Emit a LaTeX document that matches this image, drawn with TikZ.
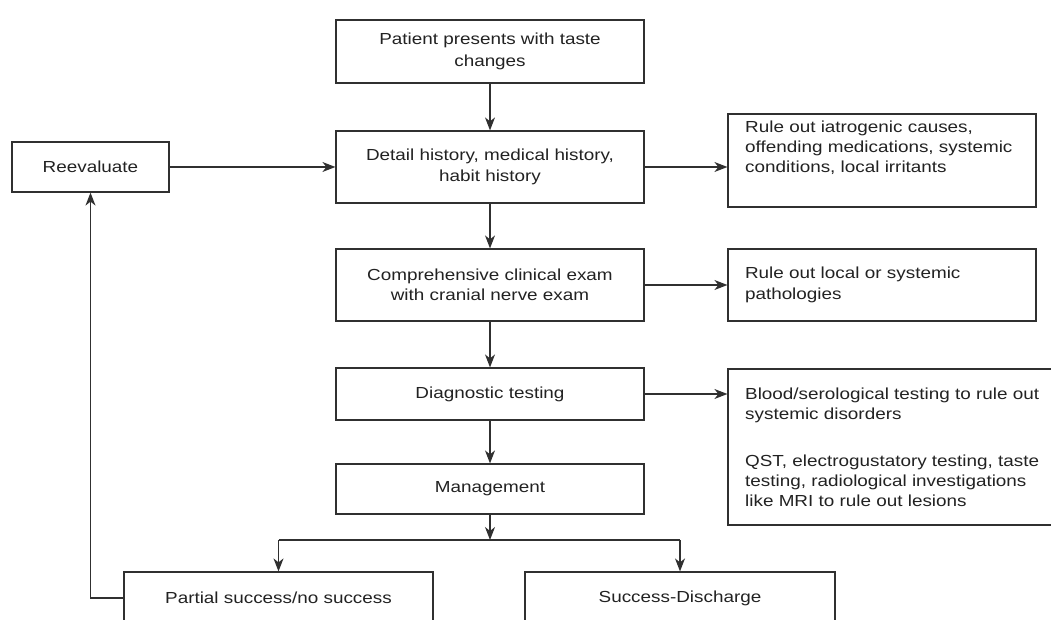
\documentclass[tikz,border=0pt]{standalone}
\usepackage{fontspec}
\setmainfont{Liberation Sans}[FakeStretch=1.18]
\usetikzlibrary{arrows.meta}
\definecolor{ln}{HTML}{303030}
\definecolor{tx}{HTML}{222222}
\tikzset{
  box/.style={draw=ln, line width=1.2pt, rectangle, inner sep=0pt, align=center,
    text=tx, font=\fontsize{16}{20.5}\selectfont},
  cbox/.style={box, minimum width=308pt},
  rtext/.style={inner sep=0pt, align=left, text=tx, font=\fontsize{16}{20}\selectfont, anchor=north west},
  arr/.style={draw=ln, line width=1.2pt, -{Stealth[length=13pt,width=10pt,inset=4pt]}},
  ln/.style={draw=ln, line width=1.2pt}
}
\begin{document}
\begin{tikzpicture}[x=1pt,y=-1pt]
\useasboundingbox (0,0) rectangle (1051,620);
\clip (0,0) rectangle (1051,620);
\fill[white] (0,0) rectangle (1051,620);
% central column
\node[cbox, minimum height=63pt, font=\fontsize{16}{22}\selectfont] (top) at (490,51.5) {Patient presents with taste\\changes};
\node[cbox, minimum height=72pt] (hist) at (490,167) {Detail history, medical history,\\habit history};
\node[cbox, minimum height=72pt] (exam) at (490,285) {Comprehensive clinical exam\\with cranial nerve exam};
\node[cbox, minimum height=52pt] (diag) at (490,394) {Diagnostic testing};
\node[cbox, minimum height=50pt] (mgmt) at (490,489) {Management};
% left
\node[box, minimum width=157pt, minimum height=50pt] (reev) at (90.5,167) {Reevaluate};
% right column
\node[box, minimum width=308pt, minimum height=93pt] (r1) at (882,160.5) {};
\node[rtext] (r1t) at (745,121) {Rule out iatrogenic causes,\\offending medications, systemic\\conditions, local irritants};
\node[box, minimum width=308pt, minimum height=72pt, align=left, text width=274pt] (r2) at (882,285) {Rule out local or systemic\\pathologies};
\node[box, minimum width=332pt, minimum height=156pt] (r3) at (894,447) {};
\node[rtext] (r3t) at (745,388) {Blood/serological testing to rule out\\systemic disorders\\[27pt]QST, electrogustatory testing, taste\\testing, radiological investigations\\like MRI to rule out lesions};
% bottom
\node[box, minimum width=309pt, minimum height=52pt] (part) at (278.5,598) {Partial success/no success};
\node[box, minimum width=310pt, minimum height=52pt] (succ) at (680,598) {Success-Discharge};
% connectors
\coordinate (split) at (490,540);
\coordinate (splitL) at (part.north |- split);
\coordinate (splitR) at (succ.north |- split);
\draw[arr] (top) -- (hist);
\draw[arr] (hist) -- (exam);
\draw[arr] (exam) -- (diag);
\draw[arr] (diag) -- (mgmt);
\draw[arr] (mgmt) -- (split);
\draw[ln] (splitL) -- (splitR);
\draw[arr] (splitL) -- (part.north);
\draw[arr] (splitR) -- (succ.north);
\draw[arr] (reev) -- (hist);
\draw[arr] (hist.east) -- (hist.east -| r1.west);
\draw[arr] (exam) -- (r2);
\draw[arr] (diag.east) -- (diag.east -| r3.west);
\draw[arr] (part.west) -| (reev.south);
\end{tikzpicture}
\end{document}
